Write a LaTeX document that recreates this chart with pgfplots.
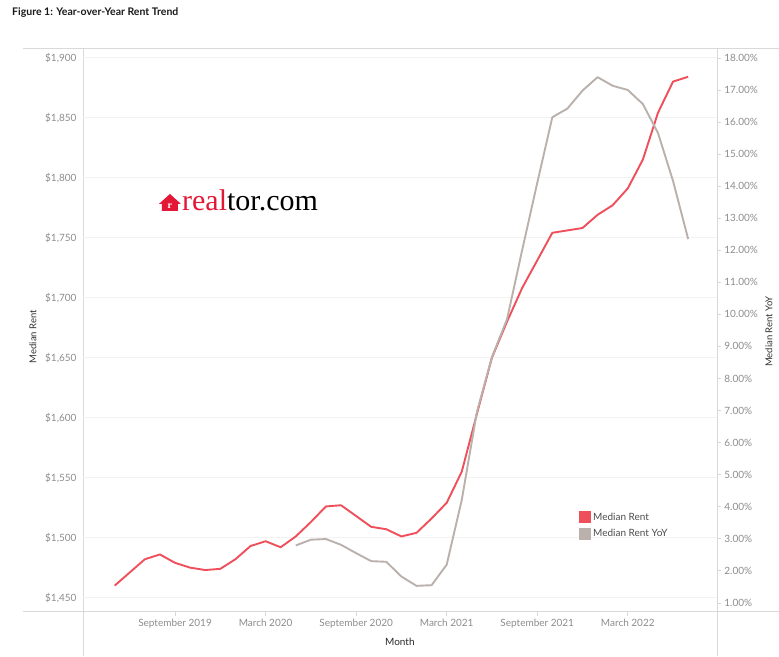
\documentclass[border=0pt]{standalone}
\usepackage{pgfplots}
\pgfplotsset{compat=1.18}
\usepackage{fontspec}
\setmainfont{Lato}
\definecolor{rentred}{HTML}{EF4F5B}
\definecolor{yoygray}{HTML}{BAB0AC}
\definecolor{ticklbl}{HTML}{8C8C8C}
\definecolor{gridc}{HTML}{F2F2F2}
\definecolor{framec}{HTML}{D9D9D9}
\definecolor{logored}{HTML}{E31837}
\begin{document}
\begin{tikzpicture}[font=\fontsize{10}{12}\selectfont]
\path (-83pt,-45pt) rectangle (696pt,611pt);
% frame lines (Tableau pane borders)
\draw[framec] (-60pt,0pt) -- (696pt,0pt);
\draw[framec] (-60pt,563pt) -- (696pt,563pt);
\draw[framec] (0pt,-45pt) -- (0pt,563pt);
\draw[framec] (634pt,-45pt) -- (634pt,563pt);
\begin{axis}[
  scale only axis, width=634pt, height=563pt,
  xmin=-6.1, xmax=35.9,
  ymin=1439, ymax=1908,
  axis x line*=bottom, axis y line*=left,
  axis line style={draw=none},
  xtick={0,6,12,18,24,30},
  xticklabels={September 2019, March 2020, September 2020, March 2021, September 2021, March 2022},
  x tick style={framec, line width=0.6pt},
  major tick length=5pt,
  tick align=outside,
  ytick={1450,1500,...,1900},
  yticklabels={{\$1,450},{\$1,500},{\$1,550},{\$1,600},{\$1,650},{\$1,700},{\$1,750},{\$1,800},{\$1,850},{\$1,900}},
  y tick style={draw=none},
  ymajorgrids, grid style={gridc, line width=0.6pt},
  ticklabel style={ticklbl, font=\fontsize{10}{12}\selectfont},
  yticklabel style={xshift=2pt},
  ylabel={Median Rent},
  ylabel style={at={(axis description cs:-0.079,0.487)}, anchor=center, text=black!80, font=\fontsize{9.5}{11}\selectfont},
  xlabel={Month},
  xlabel style={at={(axis description cs:0.5,-0.055)}, anchor=center, text=black!85, font=\fontsize{10}{12}\selectfont},
  clip=false,
]
\addplot[rentred, line width=1.9pt, line join=round] coordinates {
(-4,1460) (-3,1471) (-2,1482) (-1,1486) (0,1479) (1,1475) (2,1473) (3,1474)
(4,1482) (5,1493) (6,1497) (7,1492) (8,1501) (9,1513) (10,1526) (11,1527)
(12,1518) (13,1509) (14,1507) (15,1501) (16,1504) (17,1516) (18,1529) (19,1555)
(20,1603) (21,1650) (22,1680) (23,1708) (24,1731) (25,1754) (26,1756) (27,1758)
(28,1769) (29,1777) (30,1791) (31,1815) (32,1854) (33,1880) (34,1884)
};
\end{axis}
\begin{axis}[
  scale only axis, width=634pt, height=563pt,
  xmin=-6.1, xmax=35.9,
  ymin=0.75, ymax=18.31,
  axis x line=none, axis y line*=right,
  axis line style={draw=none},
  ytick={1,2,...,18},
  yticklabel={\pgfmathprintnumber[fixed,fixed zerofill,precision=2,assume math mode=true]{\tick}\%},
  y tick style={framec, line width=0.6pt},
  major tick length=4pt,
  tick align=outside,
  ticklabel style={ticklbl, font=\fontsize{10}{12}\selectfont},
  ylabel={Median Rent YoY},
  ylabel style={at={(axis description cs:1.082,0.496)}, anchor=center, rotate=0, text=black!80, font=\fontsize{9.5}{11}\selectfont},
  legend image code/.code={\path[#1, draw=none] (0pt,-6pt) rectangle (12pt,6pt);},
  legend style={at={(axis description cs:0.781,0.18)}, anchor=north west, draw=none, fill=none,
    font=\fontsize{10}{12}\selectfont, text=black!70, row sep=4pt, inner sep=1pt,
    nodes={inner sep=2pt}},
  legend cell align=left,
  clip=false,
]
\addlegendimage{fill=rentred}
\addlegendentry{Median Rent}
\addlegendimage{fill=yoygray}
\addlegendentry{Median Rent YoY}
\addplot[yoygray, line width=1.9pt, line join=round, forget plot] coordinates {
(8,2.79) (9,2.97) (10,2.99) (11,2.81) (12,2.55) (13,2.30) (14,2.28) (15,1.82)
(16,1.53) (17,1.55) (18,2.19) (19,4.21) (20,6.95) (21,8.67) (22,9.85) (23,12.0)
(24,14.1) (25,16.15) (26,16.42) (27,16.98) (28,17.40) (29,17.13) (30,17.00)
(31,16.56) (32,15.66) (33,14.16) (34,12.35)
};
\end{axis}
% title
\node[anchor=west, font=\bfseries\fontsize{10.5}{12}\selectfont, text=black!90, inner sep=0pt] at (-71pt,598pt) {Figure 1: Year-over-Year Rent Trend};
% realtor.com logo
\fill[logored] (79pt,400pt) -- (95pt,400pt) -- (95pt,407pt) -- (98pt,407pt) -- (87pt,417pt) -- (76pt,407pt) -- (79pt,407pt) -- cycle;
\node[white, font=\fontspec{Liberation Serif}\bfseries\fontsize{10}{10}\selectfont, inner sep=0pt] at (87pt,404.5pt) {r};
\node[anchor=base west, inner sep=0pt, font=\fontspec{Liberation Serif}\fontsize{30}{30}\selectfont] at (99pt,400pt) {\textcolor{logored}{real}tor.com};
\end{tikzpicture}
\end{document}
